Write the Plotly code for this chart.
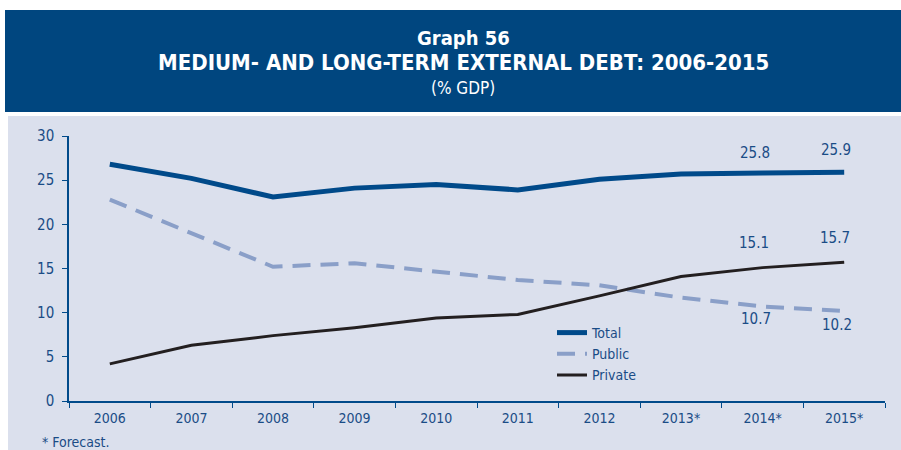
import plotly.graph_objects as go

years = ["2006", "2007", "2008", "2009", "2010", "2011", "2012", "2013*", "2014*", "2015*"]
total = [26.8, 25.2, 23.1, 24.1, 24.5, 23.9, 25.1, 25.7, 25.8, 25.9]
public = [22.8, 19.0, 15.2, 15.6, 14.7, 13.7, 13.1, 11.7, 10.7, 10.2]
private = [4.2, 6.3, 7.4, 8.3, 9.4, 9.8, 11.9, 14.1, 15.1, 15.7]
y_ticks = [0, 5, 10, 15, 20, 25, 30]

FONT = "DejaVu Sans Condensed, Liberation Sans Narrow, Arial Narrow, sans-serif"
NAVY = "#00467F"
TEXT = "#1A4C86"
PANEL = "#DBE0ED"
TOTAL_C = "#004A8A"
PUBLIC_C = "#8A9FC8"
PRIVATE_C = "#231F20"

# plot area in pixels: x 69..885, y 136..401
L, R, T, B = 69, 16, 136, 49
W, H = 901, 450
pw, ph = W - L - R, H - T - B


def px(x):
    return (x - L) / pw


def py(y):
    return (H - B - y) / ph


fig = go.Figure()
fig.add_trace(go.Scatter(x=years, y=total, name="Total", mode="lines",
                         line=dict(color=TOTAL_C, width=5)))
fig.add_trace(go.Scatter(x=years, y=public, name="Public", mode="lines",
                         line=dict(color=PUBLIC_C, width=4, dash="18px,10px")))
fig.add_trace(go.Scatter(x=years, y=private, name="Private", mode="lines",
                         line=dict(color=PRIVATE_C, width=3)))

shapes = [
    # title band
    dict(type="rect", xref="paper", yref="paper", x0=px(5), x1=px(901), y0=py(112), y1=py(10),
         fillcolor=NAVY, line=dict(width=0), layer="below"),
    # chart panel
    dict(type="rect", xref="paper", yref="paper", x0=px(8), x1=px(901), y0=py(450), y1=py(116),
         fillcolor=PANEL, line=dict(width=0), layer="below"),
]


def header(text, y, size):
    return dict(text=text, x=px(463), y=py(y), xref="paper", yref="paper", yanchor="middle",
                showarrow=False, font=dict(family=FONT, size=size, color="white"))


annotations = [
    header("<b>Graph 56</b>", 38, 20),
    header("<b>MEDIUM- AND LONG-TERM EXTERNAL DEBT: 2006-2015</b>", 62, 22),
    header("(% GDP)", 88, 17),
    dict(text="* Forecast.", x=px(40), y=py(442), xref="paper", yref="paper", xanchor="left",
         yanchor="middle", showarrow=False, font=dict(family=FONT, size=14, color=TEXT)),
]

# value labels for the forecast years (shift in pixels, positive = up)
for i, up in [(8, 20), (9, 22)]:
    annotations.append(dict(x=years[i], y=total[i], text=f"{total[i]:.1f}", showarrow=False,
                            yshift=up, xshift=-8, font=dict(family=FONT, size=15, color=TEXT)))
for i, up in [(8, 25), (9, 24)]:
    annotations.append(dict(x=years[i], y=private[i], text=f"{private[i]:.1f}", showarrow=False,
                            yshift=up, xshift=-9, font=dict(family=FONT, size=15, color=TEXT)))
for i, up in [(8, -13), (9, -14)]:
    annotations.append(dict(x=years[i], y=public[i], text=f"{public[i]:.1f}", showarrow=False,
                            yshift=up, xshift=-7, font=dict(family=FONT, size=15, color=TEXT)))

fig.update_layout(
    width=W, height=H,
    margin=dict(l=L, r=R, t=T, b=B, pad=0),
    paper_bgcolor="white",
    plot_bgcolor="rgba(0,0,0,0)",
    shapes=shapes,
    annotations=annotations,
    font=dict(family=FONT, size=14, color=TEXT),
    showlegend=True,
    legend=dict(x=px(552), y=py(317), xanchor="left", yanchor="top",
                bgcolor="rgba(0,0,0,0)", font=dict(family=FONT, size=14, color=TEXT),
                itemwidth=30, tracegroupgap=0),
    xaxis=dict(type="category", range=[-0.5, 9.5], tickson="boundaries", ticks="outside",
               ticklen=5, tickcolor=TOTAL_C, showline=True, linecolor=TOTAL_C, linewidth=1.5,
               showgrid=False, zeroline=False, fixedrange=True, ticklabelstandoff=3,
               tickfont=dict(family=FONT, size=14, color=TEXT)),
    yaxis=dict(range=[0, 30], tickvals=y_ticks, ticks="outside", ticklen=5, tickcolor=TOTAL_C,
               showline=True, linecolor=TOTAL_C, linewidth=1.5, showgrid=False, zeroline=False,
               fixedrange=True, ticklabelstandoff=5,
               tickfont=dict(family=FONT, size=15, color=TEXT)),
)

fig.write_html("out.html")
